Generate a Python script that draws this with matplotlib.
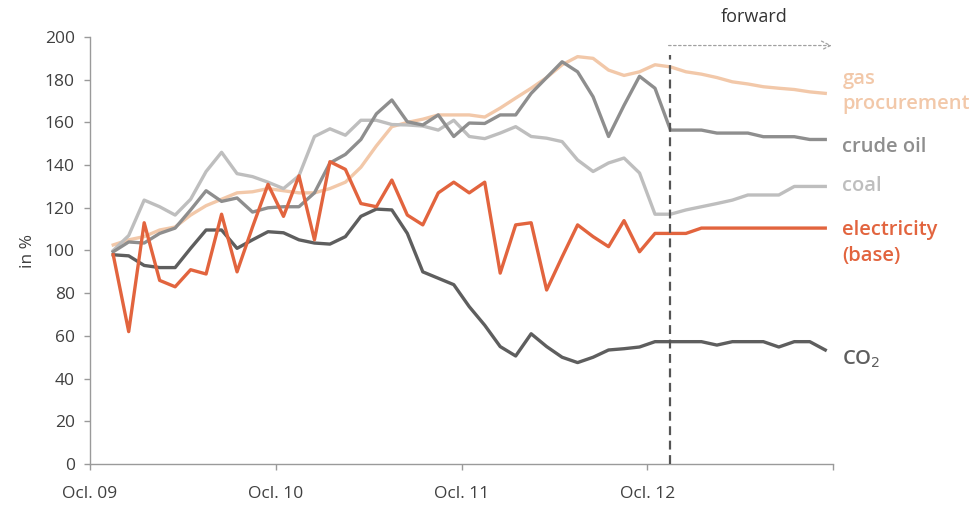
import numpy as np
import matplotlib.pyplot as plt

plt.rcParams['font.family'] = ['Open Sans', 'DejaVu Sans']

# monthly index values, first point ~1.5 months after Oct 09
gas = [102.6, 105, 106.5, 109.6, 111, 116.6, 121, 124, 127, 127.5, 129, 128, 127, 127, 129,
       132, 139, 149, 158, 160, 161.5, 163.5, 163.5, 163.5, 162.5, 166.7, 171.4, 176, 181,
       187, 190.8, 190, 184.5, 182, 183.7, 187, 186, 183.7, 182.6, 181, 179, 178, 176.7,
       176, 175.4, 174.3, 173.6]
crude = [99.4, 104, 103.5, 108, 110.5, 119, 128, 123, 124.6, 118, 120, 120.5, 120.5, 127,
         141, 145, 152, 164, 170.5, 160.3, 158.8, 163.5, 153.4, 159.7, 159.5, 163.5, 163.5,
         173.6, 181, 188.4, 183.7, 172, 153.4, 168, 181.6, 176, 156.4, 156.4, 156.4, 155,
         155, 155, 153.3, 153.3, 153.3, 152, 152]
coal = [100, 107, 123.6, 120.5, 116.6, 124, 137, 146, 136, 134.6, 132, 129, 135, 153.4, 157,
        154, 161, 161, 159, 158.8, 158.3, 156.4, 161, 153.4, 152.4, 155, 158, 153.4, 152.6,
        151, 142.4, 137, 141, 143.3, 136.3, 117, 117, 119, 120.5, 122, 123.6, 126, 126, 126,
        130, 130, 130]
electricity = [98, 62, 113, 86, 83, 91, 89, 117, 90, 111, 131, 116, 135, 105, 141.6, 138,
               122, 120.5, 133, 116.6, 112, 127, 132, 127, 132, 89.4, 112, 113, 81.5, 97, 112,
               106.5, 101.8, 114, 99.4, 108, 108, 108, 110.5, 110.5, 110.5, 110.5, 110.5,
               110.5, 110.5, 110.5, 110.5]
co2 = [98, 97.5, 93, 92, 92, 101, 109.6, 109.6, 101, 105, 108.8, 108.3, 105, 103.5, 103,
       106.5, 116, 119.4, 119, 108, 90, 87, 84, 73.7, 65, 55, 50.6, 61, 55, 50, 47.5, 50,
       53.4, 54, 54.8, 57.3, 57.3, 57.3, 57.3, 55.7, 57.3, 57.3, 57.3, 54.8, 57.3, 57.3, 53.4]

months = np.arange(len(gas)) + 1.5
tick_pos = [0, 12, 24, 36, 48]
tick_labels = ['Ocl. 09', 'Ocl. 10', 'Ocl. 11', 'Ocl. 12', '']
forward_start = 37.5

c_gas = '#F2C8A9'
c_crude = '#8E8E8E'
c_coal = '#BEBEBE'
c_elec = '#E2643E'
c_co2 = '#5E5E5E'

fig = plt.figure(figsize=(9.73, 5.09), dpi=100)
ax = fig.add_axes([90 / 973, 1 - 464 / 509, 743 / 973, 427 / 509])

lw = 2.4
ax.plot(months, gas, color=c_gas, lw=lw, zorder=2)
ax.plot(months, coal, color=c_coal, lw=lw, zorder=3)
ax.plot(months, crude, color=c_crude, lw=lw, zorder=4)
ax.plot(months, co2, color=c_co2, lw=lw, zorder=4)
ax.plot(months, electricity, color=c_elec, lw=lw, zorder=5)

ax.set_xlim(0, 48)
ax.set_ylim(0, 200)
ax.set_yticks(range(0, 201, 20))
ax.set_xticks(tick_pos)
ax.set_xticklabels(tick_labels)
ax.tick_params(axis='both', colors='#9A9A9A', labelcolor='#404040', labelsize=12.5,
               length=4, width=1)
ax.tick_params(axis='x', pad=12)
ax.tick_params(axis='y', pad=7)
for s in ['top', 'right']:
    ax.spines[s].set_visible(False)
for s in ['left', 'bottom']:
    ax.spines[s].set_color('#9A9A9A')
    ax.spines[s].set_linewidth(1)
ax.set_ylabel('in %', fontsize=12.5, color='#404040', labelpad=6)

# forward period marker
ax.plot([forward_start, forward_start], [0, 191.5], color='#555555', lw=1.6,
        ls=(0, (4, 2.5)), zorder=6, clip_on=False)
ax.annotate('', xy=(48.1, 196), xytext=(forward_start - 0.3, 196),
            arrowprops=dict(arrowstyle='->', color='#A0A0A0', lw=0.9,
                            ls=(0, (2, 2)), mutation_scale=16), annotation_clip=False)
ax.text(42.9, 209.5, 'forward', fontsize=13, color='#333333', ha='center', va='center',
        clip_on=False)

# series labels on the right
lx = 48.6
kw = dict(fontsize=14.5, fontweight='semibold', ha='left', va='center', clip_on=False)
ax.text(lx, 180.5, 'gas', color=c_gas, **kw)
ax.text(lx, 168.5, 'procurement', color=c_gas, **kw)
ax.text(lx, 148.5, 'crude oil', color=c_crude, **kw)
ax.text(lx, 130, 'coal', color=c_coal, **kw)
ax.text(lx, 109.5, 'electricity', color=c_elec, **kw)
ax.text(lx, 97.5, '(base)', color=c_elec, **kw)
ax.text(lx, 49, 'CO$_2$', color=c_co2, **kw)

fig.savefig('out.png', dpi=100)
